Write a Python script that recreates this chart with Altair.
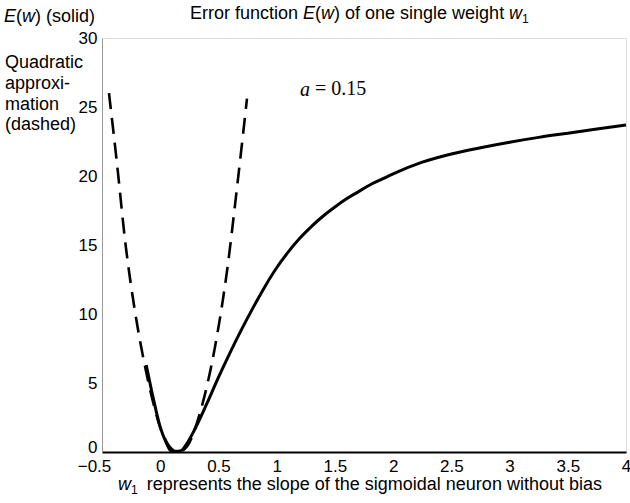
import altair as alt
import pandas as pd

# Solid curve: error function E(w)
w_solid = [-0.12, -0.06, 0.0, 0.05, 0.09, 0.13, 0.18, 0.22, 0.3, 0.4, 0.5, 0.6,
           0.7, 0.8, 0.9, 1.0, 1.1, 1.2, 1.3, 1.4, 1.5, 1.6, 1.7, 1.8, 1.9, 2.0,
           2.25, 2.5, 2.75, 3.0, 3.25, 3.5, 3.75, 4.0]
e_solid = [6.3, 3.9, 1.8, 0.7, 0.1, 0.05, 0.1, 0.5, 1.7, 3.5, 5.4, 7.2,
           8.9, 10.5, 12.0, 13.35, 14.5, 15.5, 16.35, 17.1, 17.75, 18.35, 18.85, 19.35, 19.75, 20.15,
           21.0, 21.6, 22.05, 22.45, 22.8, 23.1, 23.4, 23.7]

# Dashed curve: quadratic approximation
w_quad = [-0.44, -0.37, -0.3, -0.215, -0.17, -0.1, 0.0, 0.08, 0.155, 0.23, 0.34,
          0.47, 0.575, 0.66, 0.745]
e_quad = [26.0, 20.8, 15.2, 10.1, 7.9, 5.0, 1.8, 0.4, 0.0, 0.4, 2.8,
          7.6, 13.2, 19.2, 25.6]

x_ticks = [-0.5, 0, 0.5, 1, 1.5, 2, 2.5, 3, 3.5, 4]
y_ticks = [0, 5, 10, 15, 20, 25, 30]

df_s = pd.DataFrame({"w": w_solid, "E": e_solid})
df_q = pd.DataFrame({"w": w_quad, "E": e_quad})

FONT = "Liberation Sans"
FS = 18
TS = 17

xs = alt.Scale(domain=[-0.5, 4], nice=False, zero=False)
ys = alt.Scale(domain=[0, 30], nice=False)

x_axis = alt.Axis(values=x_ticks, title=None, labelFontSize=TS, labelFont=FONT,
                  labelColor="black", ticks=False, labelPadding=6, grid=False,
                  domainColor="black", domainWidth=2, labelFlush=False,
                  labelOffset={"condition": {"test": "datum.value < 0", "value": -8},
                               "value": 0},
                  labelExpr="datum.value < 0 ? '\u2212' + format(-datum.value, '') : format(datum.value, '')")
y_axis = alt.Axis(values=y_ticks, title=None, labelFontSize=TS, labelFont=FONT,
                  labelColor="black", ticks=False, labelPadding=5, grid=False,
                  domainColor="#999999", domainWidth=1, labelFlush=False,
                  labelOffset={"condition": {"test": "datum.value == 0", "value": -5},
                               "value": 0})

solid = alt.Chart(df_s).mark_line(color="black", strokeWidth=3, interpolate="monotone").encode(
    x=alt.X("w:Q", scale=xs, axis=x_axis),
    y=alt.Y("E:Q", scale=ys, axis=y_axis),
)
dashed = alt.Chart(df_q).mark_line(color="black", strokeWidth=2.6, strokeDash=[16, 9],
                                   interpolate="monotone").encode(
    x=alt.X("w:Q", scale=xs),
    y=alt.Y("E:Q", scale=ys),
)

# Arial / Liberation Sans advance widths (per 1000 em) for rich-text layout
AW = {" ": 278, "(": 333, ")": 333, "-": 333, ".": 278, "=": 584, "E": 667, "Q": 778,
      "a": 556, "b": 556, "c": 500, "d": 556, "e": 556, "f": 278, "g": 556, "h": 556,
      "i": 222, "j": 222, "k": 500, "l": 222, "m": 833, "n": 556, "o": 556, "p": 556,
      "q": 556, "r": 333, "s": 500, "t": 278, "u": 556, "v": 500, "w": 722, "x": 500,
      "y": 500, "z": 500}
for d in "0123456789":
    AW[d] = 556


def text_width(s, size):
    return sum(AW.get(c, 556) for c in s) * size / 1000.0


def label(text, x, y, size=FS, font=FONT, align="left", style="normal", baseline="alphabetic"):
    return alt.Chart(pd.DataFrame({"t": [text]})).mark_text(
        align=align, baseline=baseline, fontSize=size, font=font, fontStyle=style,
        color="black").encode(x=alt.value(x), y=alt.value(y), text="t:N")


def rich(segments, x0, y):
    """segments: (text, style, size, dy, gap_before)"""
    out = []
    x = x0
    for text, style, size, dy, gap in segments:
        x += gap
        out.append(label(text, x, y + dy, size=size, style=style))
        x += text_width(text, size)
    return out


SUB = 12
texts = []
texts += rich([("Error function", "normal", FS, 0, 0), ("E", "italic", FS, 0, 5),
               ("(", "normal", FS, 0, 0), ("w", "italic", FS, 0, 0),
               (") of one single weight", "normal", FS, 0, 0),
               ("w", "italic", FS, 0, 5), ("1", "normal", SUB, 4, 0)], 88, -19)
texts += rich([("E", "italic", FS, 0, 0), ("(", "normal", FS, 0, 0), ("w", "italic", FS, 0, 0),
               (") (solid)", "normal", FS, 0, 0)], -98, -16)
texts += [
    label("Quadratic", -97, 30),
    label("approxi-", -97, 51),
    label("mation", -97, 72),
    label("(dashed)", -97, 92),
    label("a", 198, 52, size=20, font="Liberation Serif", style="italic", baseline="middle"),
    label("= 0.15", 213, 51, size=20, font="Liberation Serif", baseline="middle"),
]
texts += rich([("w", "italic", FS, 0, 0), ("1", "normal", SUB, 4, 0),
               ("represents the slope of the sigmoidal neuron without bias", "normal", FS, 0, 9)],
              16, 452)

chart = alt.layer(dashed, solid, *texts).properties(
    width=524, height=414,
    autosize=alt.AutoSizeParams(type="none"),
    padding={"left": 102, "top": 38, "right": 4, "bottom": 51},
).configure_view(stroke="#999999", strokeWidth=1).configure(background="white")

chart.save("out.html", embed_options={"renderer": "svg", "actions": False})
